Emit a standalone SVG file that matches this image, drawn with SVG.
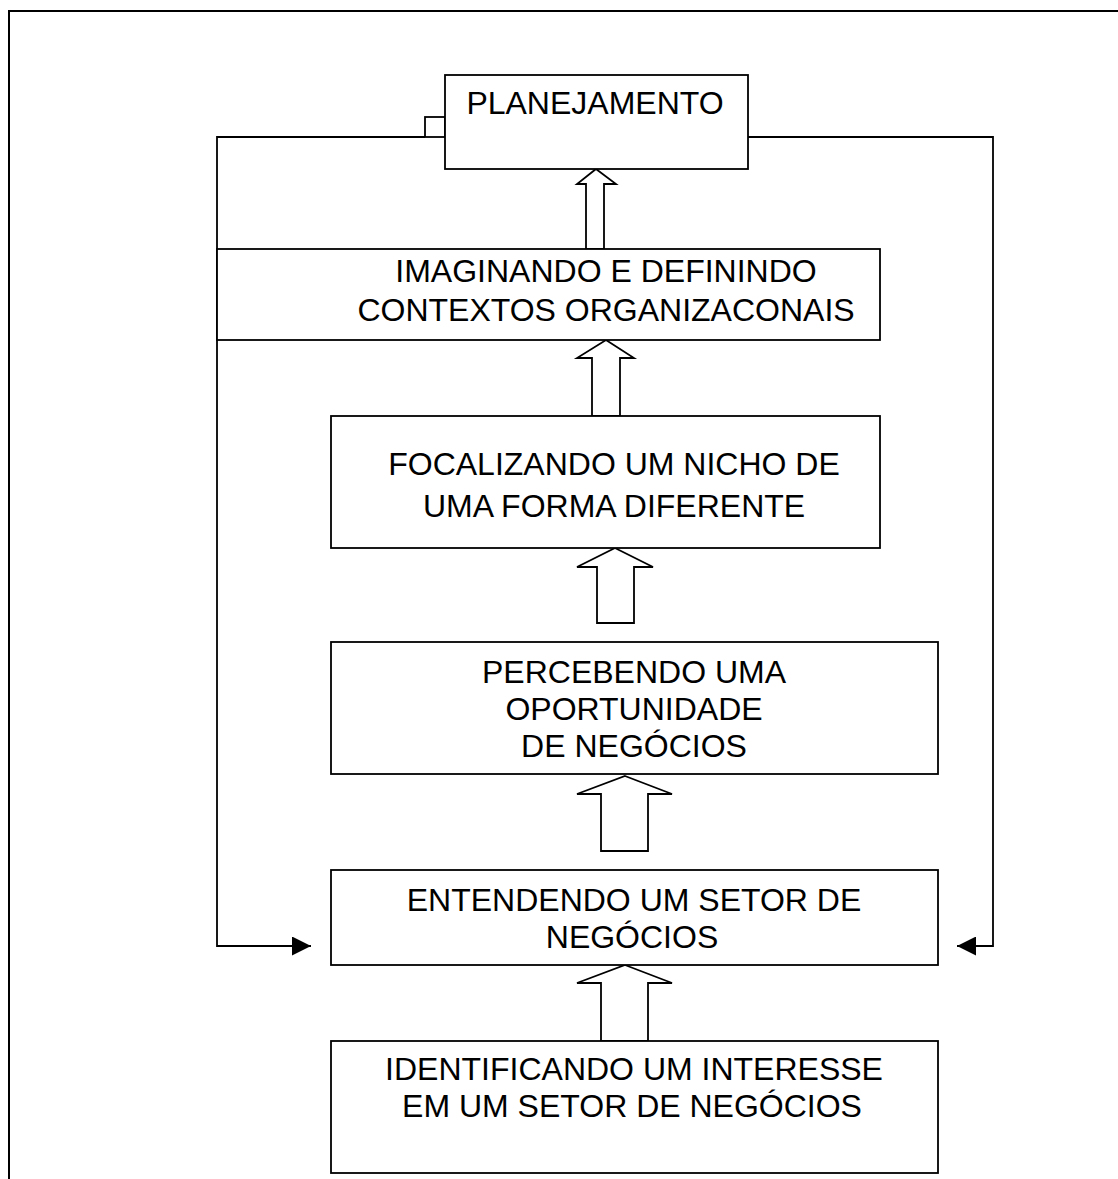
<svg xmlns="http://www.w3.org/2000/svg" width="1118" height="1179" viewBox="0 0 1118 1179">
<style>
.box{fill:#fff;stroke:#000;stroke-width:1.8}
.blk{fill:#fff;stroke:#000;stroke-width:1.8;stroke-linejoin:miter}
.ln{fill:none;stroke:#000;stroke-width:1.8}
text{font-family:"Liberation Sans",Arial,sans-serif;font-size:32px;fill:#000;text-anchor:middle}
</style>
<defs>
<marker id="ah" viewBox="0 0 20 20" refX="20" refY="10" markerWidth="20" markerHeight="19" markerUnits="userSpaceOnUse" orient="auto">
<path d="M0,0 L20,10 L0,20 z" fill="#000"/>
</marker>
</defs>
<rect width="1118" height="1179" fill="#fff"/>
<rect x="9" y="11" width="1130" height="1190" fill="none" stroke="#000" stroke-width="2"/>
<g id="connectors">
<rect x="425" y="117" width="20" height="20" class="ln"/>
<polyline class="ln" points="425,137 217,137 217,946 311,946" marker-end="url(#ah)"/>
<polyline class="ln" points="748,137 993,137 993,946 957,946" marker-end="url(#ah)"/>
<polygon class="blk" points="596,169 616,184 604,184 604,249 586,249 586,184 577,184"/>
<polygon class="blk" points="606,340 634,358 620,358 620,416 592,416 592,358 577,358"/>
<polygon class="blk" points="615,548 653,567 634,567 634,623 597,623 597,567 577,567"/>
<polygon class="blk" points="625,776 672,794 648,794 648,851 601,851 601,794 577,794"/>
<polygon class="blk" points="625,965 672,983 648,983 648,1041 601,1041 601,983 577,983"/>
</g>
<g id="planejamento">
<rect class="box" x="445" y="75" width="303" height="94"/>
<text x="595" y="114">PLANEJAMENTO</text>
</g>
<g id="imaginando">
<rect class="box" x="217" y="249" width="663" height="91"/>
<text x="606" y="282">IMAGINANDO E DEFININDO</text>
<text x="606" y="321">CONTEXTOS ORGANIZACONAIS</text>
</g>
<g id="focalizando">
<rect class="box" x="331" y="416" width="549" height="132"/>
<text x="614" y="475">FOCALIZANDO UM NICHO DE</text>
<text x="614" y="517">UMA FORMA DIFERENTE</text>
</g>
<g id="percebendo">
<rect class="box" x="331" y="642" width="607" height="132"/>
<text x="634" y="683">PERCEBENDO UMA</text>
<text x="634" y="720">OPORTUNIDADE</text>
<text x="634" y="757">DE NEGÓCIOS</text>
</g>
<g id="entendendo">
<rect class="box" x="331" y="870" width="607" height="95"/>
<text x="634" y="911">ENTENDENDO UM SETOR DE</text>
<text x="632" y="948">NEGÓCIOS</text>
</g>
<g id="identificando">
<rect class="box" x="331" y="1041" width="607" height="132"/>
<text x="634" y="1080">IDENTIFICANDO UM INTERESSE</text>
<text x="632" y="1117">EM UM SETOR DE NEGÓCIOS</text>
</g>
</svg>
